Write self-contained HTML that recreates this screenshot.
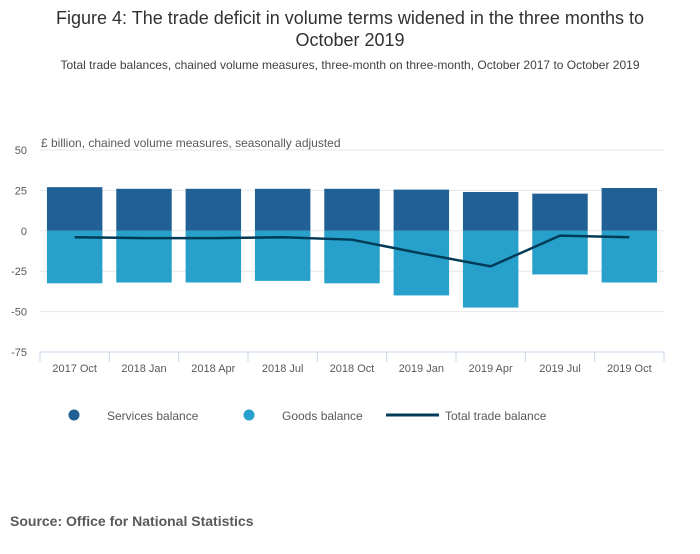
<!DOCTYPE html>
<html><head><meta charset="utf-8"><style>
body{margin:0;background:#fff;font-family:"Liberation Sans",sans-serif;}
</style></head><body>
<svg width="700" height="549" xmlns="http://www.w3.org/2000/svg" id="svg">
<text x="350" y="24" text-anchor="middle" font-size="18" fill="#323132">Figure 4: The trade deficit in volume terms widened in the three months to</text>
<text x="350" y="46" text-anchor="middle" font-size="18" fill="#323132">October 2019</text>
<text x="350" y="69" text-anchor="middle" font-size="12" fill="#414042">Total trade balances, chained volume measures, three-month on three-month, October 2017 to October 2019</text>
<text x="41" y="147" font-size="12" fill="#58595b">£ billion, chained volume measures, seasonally adjusted</text>
<g id="grid"></g><g id="bars"></g><g id="line"></g><g id="axis"></g>
<g>
<circle cx="74" cy="415" r="5.5" fill="#206095"/>
<text x="107" y="420" font-size="12" fill="#58595b">Services balance</text>
<circle cx="249" cy="415" r="5.5" fill="#27a0cc"/>
<text x="282" y="420" font-size="12" fill="#58595b">Goods balance</text>
<line x1="386" y1="415" x2="439" y2="415" stroke="#003c57" stroke-width="3"/>
<text x="445" y="420" font-size="12" fill="#58595b">Total trade balance</text>
</g>
<text x="10" y="526" font-size="14" font-weight="bold" fill="#58595b">Source: Office for National Statistics</text>
</svg>
<script>
const categories=["2017 Oct","2018 Jan","2018 Apr","2018 Jul","2018 Oct","2019 Jan","2019 Apr","2019 Jul","2019 Oct"];
const services=[27,26,26,26,26,25.5,24,23,26.5];
const goods=[-32.5,-32,-32,-31,-32.5,-40,-47.5,-27,-32];
const total=[-4,-4.5,-4.5,-4,-5.5,-14,-22,-3,-4];
const yTicks=[50,25,0,-25,-50,-75];
const NS="http://www.w3.org/2000/svg";
const x0=40,x1=664,yTop=150,yBot=352,vMax=50,vMin=-75;
const band=(x1-x0)/categories.length;
function y(v){return yTop+(vMax-v)/(vMax-vMin)*(yBot-yTop);}
function xc(i){return x0+band*(i+0.5);}
function mk(tag,attrs,parent){const e=document.createElementNS(NS,tag);for(const k in attrs)e.setAttribute(k,attrs[k]);document.getElementById(parent).appendChild(e);return e;}
yTicks.forEach(t=>{
 if(t!==vMin){const l=mk('line',{x1:x0,x2:x1,y1:y(t),y2:y(t),stroke:'#e6e6e6','stroke-width':1},'grid');
 
 }
 const tx=mk('text',{x:27,y:y(t)+4,'text-anchor':'end','font-size':11,fill:'#58595b'},'grid');
 tx.textContent=t;
 
 
});
const bw=band*0.8;
categories.forEach((c,i)=>{
 const s=mk('rect',{x:xc(i)-bw/2,y:y(services[i]),width:bw,height:y(0)-y(services[i]),fill:'#206095'},'bars');
 
 
 const g=mk('rect',{x:xc(i)-bw/2,y:y(0),width:bw,height:y(goods[i])-y(0),fill:'#27a0cc'},'bars');
 
 
 const tl=mk('text',{x:xc(i),y:372,'text-anchor':'middle','font-size':11,fill:'#58595b'},'axis');
 tl.textContent=c;
 
 
});
const ax=mk('line',{x1:x0,x2:x1,y1:yBot,y2:yBot,stroke:'#c8d4ea','stroke-width':1},'axis');


for(let i=0;i<=categories.length;i++){
 const tk=mk('line',{x1:x0+band*i,x2:x0+band*i,y1:yBot,y2:yBot+10,stroke:'#c8d4ea','stroke-width':1},'axis');
 
 
}
const pl=mk('polyline',{points:total.map((v,i)=>xc(i)+','+y(v)).join(' '),fill:'none',stroke:'#003c57','stroke-width':2.5},'line');


</script>
</body></html>
